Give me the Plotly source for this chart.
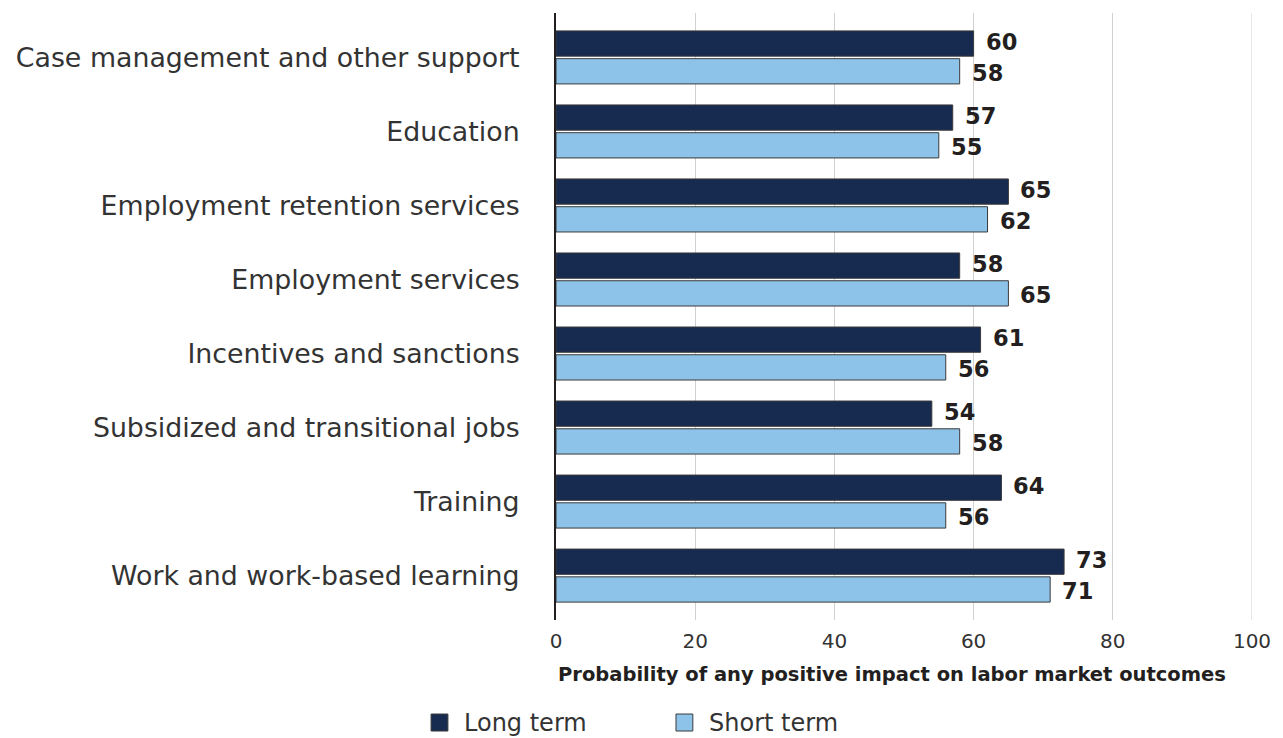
import plotly.graph_objects as go

categories = [
    "Case management and other support",
    "Education",
    "Employment retention services",
    "Employment services",
    "Incentives and sanctions",
    "Subsidized and transitional jobs",
    "Training",
    "Work and work-based learning",
]
long_term = [60, 57, 65, 58, 61, 54, 64, 73]
short_term = [58, 55, 62, 65, 56, 58, 56, 71]
x_ticks = [0, 20, 40, 60, 80, 100]
series_names = ["Long term", "Short term"]

LONG_COLOR = "#172a50"
SHORT_COLOR = "#8ec3e9"
EDGE = "#3a3a3a"
FONT = "DejaVu Sans"

fig = go.Figure()

for name, vals, color in zip(series_names, [long_term, short_term], [LONG_COLOR, SHORT_COLOR]):
    fig.add_trace(go.Bar(
        name=name, y=categories, x=vals, orientation="h",
        marker=dict(color=color, line=dict(color=EDGE, width=1)),
        showlegend=False, hoverinfo="x+y",
    ))

# value labels beside each bar
n = len(categories)
for i, cat in enumerate(categories):
    for vals, off in [(long_term, -0.205), (short_term, 0.205)]:
        fig.add_annotation(
            x=vals[i], y=i + off, xref="x", yref="y",
            text=f"<b>{vals[i]}</b>", showarrow=False,
            xanchor="left", yanchor="middle", xshift=10,
            font=dict(family=FONT, size=22.5, color="#231f20"),
        )

fig.add_annotation(
    x=0, xref="x", xanchor="left", y=-0.09, yref="paper", yanchor="middle",
    text="<b>Probability of any positive impact on labor market outcomes</b>",
    showarrow=False, font=dict(family=FONT, size=19.5, color="#231f20"),
)

# gridline at the right end of the range
fig.add_shape(type="line", xref="x", yref="paper", x0=100, x1=100, y0=0, y1=1,
              line=dict(color="#d0d0d0", width=1), layer="below")

# legend row below the axis title: swatch + label per series
legend_items = [(-0.1795, LONG_COLOR), (0.1724, SHORT_COLOR)]
for name, (lx, color) in zip(series_names, legend_items):
    fig.add_shape(type="rect", xref="paper", yref="paper",
                  x0=lx, x1=lx + 0.0242, y0=-0.1549, y1=-0.1829,
                  fillcolor=color, line=dict(color=EDGE, width=1))
    fig.add_annotation(
        x=lx + 0.0442, xref="paper", xanchor="left", y=-0.1697, yref="paper", yanchor="middle",
        text=name, showarrow=False, font=dict(family=FONT, size=24, color="#333333"),
    )

fig.update_layout(
    width=1283, height=738,
    margin=dict(l=556, r=25, t=13, b=118),
    paper_bgcolor="white", plot_bgcolor="white",
    barmode="group", bargap=0.25, bargroupgap=0.09,
    font=dict(family=FONT, color="#333333"),
    showlegend=False,
    xaxis=dict(
        range=[0, 100], tickvals=x_ticks, showgrid=True, gridcolor="#d0d0d0", gridwidth=1,
        zeroline=False, showline=False, ticks="", ticklabelstandoff=7,
        tickfont=dict(family=FONT, size=20, color="#333333"),
    ),
    yaxis=dict(
        type="category", categoryorder="array", categoryarray=categories,
        range=[n - 1 + 0.6, -0.6], showline=True, linecolor="#231f20", linewidth=2,
        ticks="", ticklabelstandoff=29, showgrid=False,
        tickfont=dict(family=FONT, size=26.8, color="#333333"),
    ),
)

fig.write_html("out.html")
